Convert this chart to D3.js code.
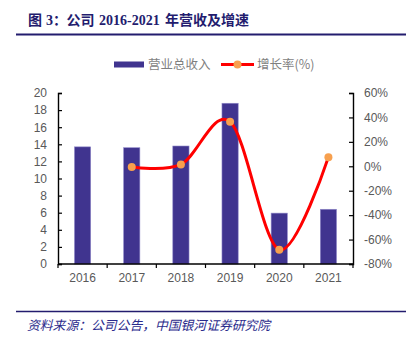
<!DOCTYPE html>
<html><head><meta charset="utf-8">
<script src="https://cdn.jsdelivr.net/npm/d3@7"></script>
<style>
html,body{margin:0;padding:0;background:#fff;}
svg{display:block;}
</style></head>
<body>
<svg id="c" width="414" height="343"></svg>
<script>
const years = ["2016","2017","2018","2019","2020","2021"];
const revenue = [13.7, 13.6, 13.8, 18.8, 5.95, 6.4];
const growth = [null, -0.5, 1.5, 36.5, -68.3, 7.5];
const leftTicks = [0,2,4,6,8,10,12,14,16,18,20];
const rightTicks = [-80,-60,-40,-20,0,20,40,60];
const seriesNames = ["营业总收入","增长率(%)"];
const titleParts = ["图","3：","公司","2016-2021","年营收及增速"];
const sourceText = "资料来源：公司公告，中国银河证券研究院";

const svg = d3.select("#c");
const navy = "#231c6e";
const barColor = "#40348f";
const lineColor = "#ff0000";
const dotColor = "#f7a04e";
const tickColor = "#595959";

const L = 58, R = 353, T = 93, B = 264;

// title
const titleX = [28, 46, 66.5, 99, 165];
svg.append("text").attr("y",25)
  .attr("font-family","'Liberation Serif', 'Noto Sans CJK SC', serif").attr("font-weight","bold")
  .attr("font-size",14).attr("fill",navy)
  .selectAll("tspan").data(titleParts).join("tspan")
  .attr("x",(d,i)=>titleX[i]).text(d=>d);
svg.append("line").attr("x1",16).attr("x2",406).attr("y1",34.5).attr("y2",34.5)
  .attr("stroke",navy).attr("stroke-width",2);

// scales
const x = d3.scaleBand().domain(years).range([L,R]).paddingInner(0.67).paddingOuter(0.335);
const xb = d3.scaleBand().domain(years).range([L,R]);
const yL = d3.scaleLinear().domain([0,20]).range([B,T]);
const yR = d3.scaleLinear().domain([-80,60]).range([B,T]);

// bars
svg.append("g").selectAll("rect").data(years).join("rect")
  .attr("x",d=>x(d)).attr("width",x.bandwidth())
  .attr("y",(d,i)=>yL(revenue[i])).attr("height",(d,i)=>B-yL(revenue[i]))
  .attr("fill",barColor).attr("stroke","#8f88c8").attr("stroke-width",0.6);

// axes
const fontTick = "'Liberation Sans', Arial, sans-serif";
const gl = svg.append("g").attr("transform",`translate(${L},0)`)
  .call(d3.axisRight(yL).tickValues(leftTicks).tickSize(4).tickFormat(d3.format("d")));
gl.selectAll("text").attr("x",-11).attr("text-anchor","end");
const gr = svg.append("g").attr("transform",`translate(${R},0)`)
  .call(d3.axisLeft(yR).tickValues(rightTicks).tickSize(4).tickFormat(d=>d+"%"));
gr.selectAll("text").attr("x",11).attr("text-anchor","start");
const gx = svg.append("g").attr("transform",`translate(0,${B})`)
  .call(d3.axisBottom(xb).tickSize(0).tickPadding(9));
// boundary ticks
svg.append("g").selectAll("line").data(d3.range(years.length+1)).join("line")
  .attr("x1",i=>L+i*xb.step()).attr("x2",i=>L+i*xb.step())
  .attr("y1",B).attr("y2",B+4).attr("stroke","#000").attr("stroke-width",1.2);
[gl,gr,gx].forEach(g=>{
  g.select(".domain").attr("stroke","#000").attr("stroke-width",1.4);
  g.selectAll(".tick line").attr("stroke","#000").attr("stroke-width",1.2);
  g.selectAll("text").attr("font-family",fontTick).attr("font-size",12).attr("fill",tickColor);
});
gx.select(".domain").attr("d",`M${L},0H${R}`);

// line
const pts = years.map((d,i)=>({x:x(d)+x.bandwidth()/2, v:growth[i]})).filter(p=>p.v!==null);
const line = d3.line().x(p=>p.x).y(p=>yR(p.v)).curve(d3.curveCardinal.tension(0));
svg.append("path").attr("d",line(pts)).attr("fill","none").attr("stroke",lineColor).attr("stroke-width",3);
svg.append("g").selectAll("circle").data(pts).join("circle")
  .attr("cx",p=>p.x).attr("cy",p=>yR(p.v)).attr("r",4).attr("fill",dotColor);

// legend
const lg = svg.append("g").attr("font-family","'Noto Sans CJK SC', sans-serif").attr("font-size",12.5).attr("fill","#7f7f7f");
lg.append("rect").attr("x",114).attr("y",61.5).attr("width",30).attr("height",6).attr("fill",barColor);
lg.append("text").attr("x",148).attr("y",69).text(seriesNames[0]);
lg.append("line").attr("x1",221).attr("x2",254).attr("y1",64.5).attr("y2",64.5).attr("stroke",lineColor).attr("stroke-width",3);
lg.append("circle").attr("cx",237.5).attr("cy",64.5).attr("r",4).attr("fill",dotColor);
lg.append("text").attr("x",257).attr("y",69).text(seriesNames[1]);

// source
svg.append("line").attr("x1",16).attr("x2",406).attr("y1",311.5).attr("y2",311.5)
  .attr("stroke",navy).attr("stroke-width",1.5);
svg.append("text").attr("x",27).attr("y",330)
  .attr("font-family","'Noto Sans CJK SC', sans-serif").attr("font-style","italic")
  .attr("font-size",12.8).attr("fill","#2b2b8c")
  .text(sourceText);
</script>
</body></html>
